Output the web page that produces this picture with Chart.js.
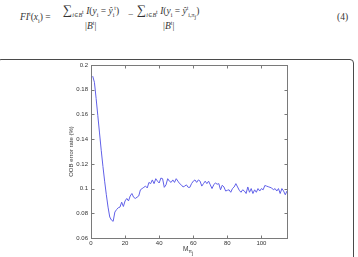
<!DOCTYPE html>
<html>
<head>
<meta charset="utf-8">
<script src="https://cdn.jsdelivr.net/npm/chart.js@4/dist/chart.umd.min.js"></script>
<style>
  body { margin: 0; background: #fff; }
  #page { position: relative; width: 358px; height: 257px; overflow: hidden; background: #fff; }
  #chart { position: absolute; left: 0; top: 0; }
  .eq { position: absolute; font-family: "Liberation Serif", "DejaVu Serif", serif; font-size: 9.5px; color: #333; white-space: nowrap; line-height: 10px; }
  .eq i { font-style: italic; }
  .eq sub, .eq sup { font-size: 6px; line-height: 0; }
  .big { font-size: 13px; }
  #box { position: absolute; left: -3px; top: 59px; width: 357px; height: 220px; border: 1px solid #4a4a4a; border-radius: 4px; box-sizing: border-box; }
  #xtitle { position: absolute; left: 183px; top: 245px; font-family: "Liberation Sans", Arial, sans-serif; font-size: 6.5px; color: #333; }
  #xtitle sub { font-size: 5px; }
</style>
</head>
<body>
<div id="page">
  <div class="eq" style="left:20px;top:12px"><i>FI</i><sup>t</sup>(<i>x</i><sub>i</sub>) =</div>
  <div class="eq" style="left:63px;top:5px"><span class="big">∑</span><sub><i>i</i>∈<i>B</i><sup>t</sup></sub> <i>I</i>(<i>y</i><sub>i</sub> = <i>ŷ</i><sub>i</sub><sup>t</sup>)</div>
  <div class="eq" style="left:85px;top:21px">|<i>B</i><sup>t</sup>|</div>
  <div class="eq" style="left:128px;top:10px">−</div>
  <div class="eq" style="left:137px;top:5px"><span class="big">∑</span><sub><i>i</i>∈<i>B</i><sup>t</sup></sub> <i>I</i>(<i>y</i><sub>i</sub> = <i>ŷ</i><sup>t</sup><sub>i,π<sub>j</sub></sub>)</div>
  <div class="eq" style="left:163px;top:21px">|<i>B</i><sup>t</sup>|</div>
  <div class="eq" style="left:337px;top:12px">(4)</div>
  <div id="box"></div>
  <canvas id="chart" width="358" height="257"></canvas>
  <div id="xtitle">M<sub>π<sub>j</sub></sub></div>
</div>
<script>
// OOB error rate per number of trees (x = 1..115)
const errRate = [
  0.191, 0.186, 0.173, 0.159, 0.145, 0.131, 0.118, 0.106, 0.095, 0.085,
  0.077, 0.0745, 0.0735, 0.081, 0.083, 0.0845, 0.085, 0.089, 0.0855, 0.09,
  0.092, 0.09, 0.094, 0.096, 0.093, 0.092, 0.093, 0.094, 0.099, 0.1,
  0.101, 0.102, 0.1005, 0.105, 0.104, 0.107, 0.104, 0.108, 0.106, 0.1045,
  0.1085, 0.108, 0.101, 0.103, 0.108, 0.106, 0.105, 0.107, 0.105, 0.108,
  0.106, 0.104, 0.103, 0.1013, 0.102, 0.103, 0.101, 0.101, 0.104, 0.106,
  0.107, 0.105, 0.107, 0.106, 0.102, 0.104, 0.106, 0.104, 0.106, 0.103,
  0.1, 0.103, 0.1046, 0.1035, 0.104, 0.099, 0.1027, 0.1013, 0.098, 0.0986,
  0.099, 0.097, 0.1, 0.1013, 0.104, 0.1013, 0.0986, 0.097, 0.099, 0.098,
  0.096, 0.1013, 0.097, 0.1, 0.096, 0.099, 0.097, 0.1, 0.098, 0.1,
  0.099, 0.1025, 0.102, 0.1015, 0.101, 0.1005, 0.099, 0.1, 0.098, 0.1,
  0.096, 0.1, 0.098, 0.095, 0.098
];
const xTicks = [0, 20, 40, 60, 80, 100];
const yTicks = [0.06, 0.08, 0.1, 0.12, 0.14, 0.16, 0.18, 0.2];
const yTitle = 'OOB error rate (%)';

const points = errRate.map((v, i) => ({x: i + 1, y: v}));
const tickFont = {family: '"Liberation Sans", Arial, sans-serif', size: 6};

// matlab style frame with inward ticks
const frame = {
  id: 'frame',
  afterDraw(chart) {
    const {ctx, chartArea: a, scales: {x, y}} = chart;
    ctx.save();
    ctx.strokeStyle = '#7a7a7a';
    ctx.lineWidth = 1;
    const L = Math.round(a.left) + 0.5, R = Math.round(a.right) + 0.5;
    const T = Math.round(a.top) + 0.5, B = Math.round(a.bottom) + 0.5;
    ctx.strokeRect(L, T, R - L, B - T);
    ctx.beginPath();
    x.ticks.forEach(t => {
      const p = Math.round(x.getPixelForValue(t.value)) + 0.5;
      ctx.moveTo(p, B); ctx.lineTo(p, B - 3);
      ctx.moveTo(p, T); ctx.lineTo(p, T + 3);
    });
    y.ticks.forEach(t => {
      const p = Math.round(y.getPixelForValue(t.value)) + 0.5;
      ctx.moveTo(L, p); ctx.lineTo(L + 3, p);
      ctx.moveTo(R, p); ctx.lineTo(R - 3, p);
    });
    ctx.stroke();
    ctx.restore();
  }
};

new Chart(document.getElementById('chart'), {
  type: 'line',
  data: {
    datasets: [{
      data: points,
      borderColor: '#6060e8',
      borderWidth: 1,
      pointRadius: 0,
      tension: 0
    }]
  },
  options: {
    responsive: false,
    animation: false,
    layout: {padding: {left: 66, right: 71, top: 65, bottom: 0}},
    plugins: {legend: {display: false}, tooltip: {enabled: false}},
    scales: {
      x: {
        type: 'linear', min: 0, max: 115,
        grid: {display: false, drawTicks: false}, border: {display: false},
        afterBuildTicks: s => { s.ticks = xTicks.map(v => ({value: v})); },
        afterFit: s => { s.height = 19; },
        ticks: {font: tickFont, color: '#333', padding: 2, maxRotation: 0}
      },
      y: {
        min: 0.06, max: 0.2,
        grid: {display: false, drawTicks: false}, border: {display: false},
        afterBuildTicks: s => { s.ticks = yTicks.map(v => ({value: v})); },
        afterFit: s => { s.width = 25; },
        ticks: {font: tickFont, color: '#333', padding: 3,
          callback: v => String(Number(v.toFixed(2)))},
        title: {display: true, text: yTitle, font: tickFont, color: '#333', padding: {top: 2, bottom: 0}}
      }
    }
  },
  plugins: [frame]
});
</script>
</body>
</html>
